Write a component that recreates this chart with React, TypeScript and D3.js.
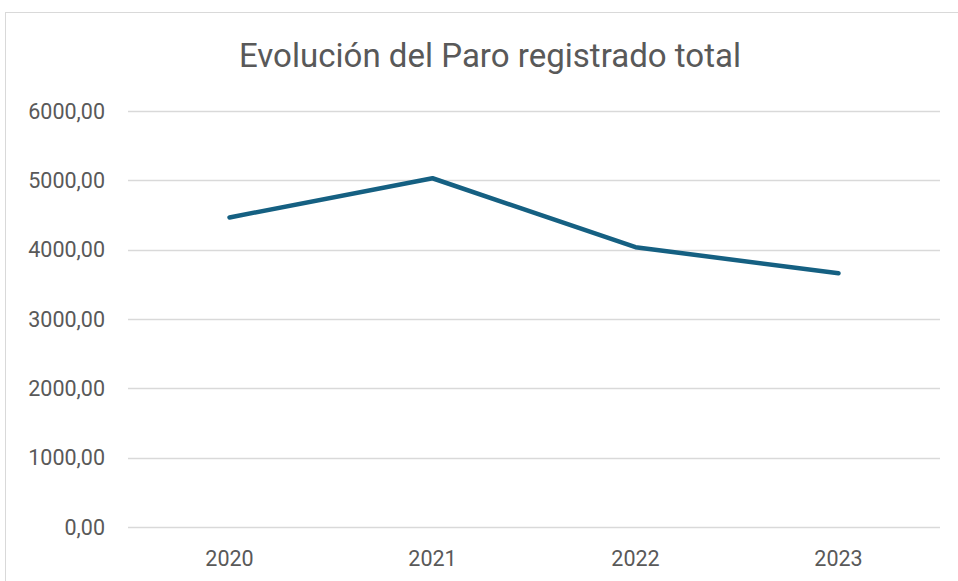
import React, { useEffect, useRef } from "react";
import * as d3 from "d3";

const years = ["2020", "2021", "2022", "2023"];
const paro = [4465, 5030, 4035, 3660];
const yTicks = [0, 1000, 2000, 3000, 4000, 5000, 6000];

const W = 958;
const H = 581;

const App: React.FC = () => {
  const ref = useRef<SVGSVGElement>(null);

  useEffect(() => {
    const svg = d3.select(ref.current);
    svg.selectAll("*").remove();

    const margin = { top: 111, right: 18, bottom: 54, left: 128 };

    // chart frame
    svg
      .append("rect")
      .attr("x", 5.5)
      .attr("y", 12.5)
      .attr("width", W + 10)
      .attr("height", H + 10)
      .attr("fill", "white")
      .attr("stroke", "#d9d9d9");

    const x = d3
      .scaleBand()
      .domain(years)
      .range([margin.left, W - margin.right]);

    const y = d3
      .scaleLinear()
      .domain([0, 6000])
      .range([H - margin.bottom, margin.top]);

    const fmt = (v: number) => d3.format(".2f")(v).replace(".", ",");

    // grid
    svg
      .append("g")
      .selectAll("line")
      .data(yTicks)
      .join("line")
      .attr("x1", margin.left)
      .attr("x2", W - margin.right)
      .attr("y1", (d) => Math.round(y(d)) + 0.5)
      .attr("y2", (d) => Math.round(y(d)) + 0.5)
      .attr("stroke", "#d9d9d9")
      .attr("stroke-width", 1.3);

    // y labels
    svg
      .append("g")
      .selectAll("text")
      .data(yTicks)
      .join("text")
      .attr("x", margin.left - 23)
      .attr("y", (d) => y(d))
      .attr("dy", "0.35em")
      .attr("text-anchor", "end")
      .attr("fill", "#595959")
      .style("font-family", "Roboto, sans-serif")
      .style("font-size", "21.5px")
      .text((d) => fmt(d));

    // x labels
    svg
      .append("g")
      .selectAll("text")
      .data(years)
      .join("text")
      .attr("x", (d) => x(d)! + x.bandwidth() / 2)
      .attr("y", H - margin.bottom + 31)
      .attr("dy", "0.35em")
      .attr("text-anchor", "middle")
      .attr("fill", "#595959")
      .style("font-family", "Roboto, sans-serif")
      .style("font-size", "21.5px")
      .text((d) => d);

    const line = d3
      .line<number>()
      .x((_, i) => x(years[i])! + x.bandwidth() / 2)
      .y((d) => y(d));

    svg
      .append("path")
      .datum(paro)
      .attr("d", line)
      .attr("fill", "none")
      .attr("stroke", "#156082")
      .attr("stroke-width", 4.5)
      .attr("stroke-linecap", "round")
      .attr("stroke-linejoin", "round");

    svg
      .append("text")
      .attr("x", 490)
      .attr("y", 67)
      .attr("text-anchor", "middle")
      .attr("fill", "#595959")
      .attr("textLength", 502)
      .attr("lengthAdjust", "spacingAndGlyphs")
      .style("font-family", "Roboto, sans-serif")
      .style("font-size", "33px")
      .text("Evolución del Paro registrado total");
  }, []);

  return (
    <svg
      ref={ref}
      width={W}
      height={H}
      viewBox={`0 0 ${W} ${H}`}
      style={{ position: "absolute", left: 0, top: 0, display: "block" }}
    />
  );
};

export default App;
